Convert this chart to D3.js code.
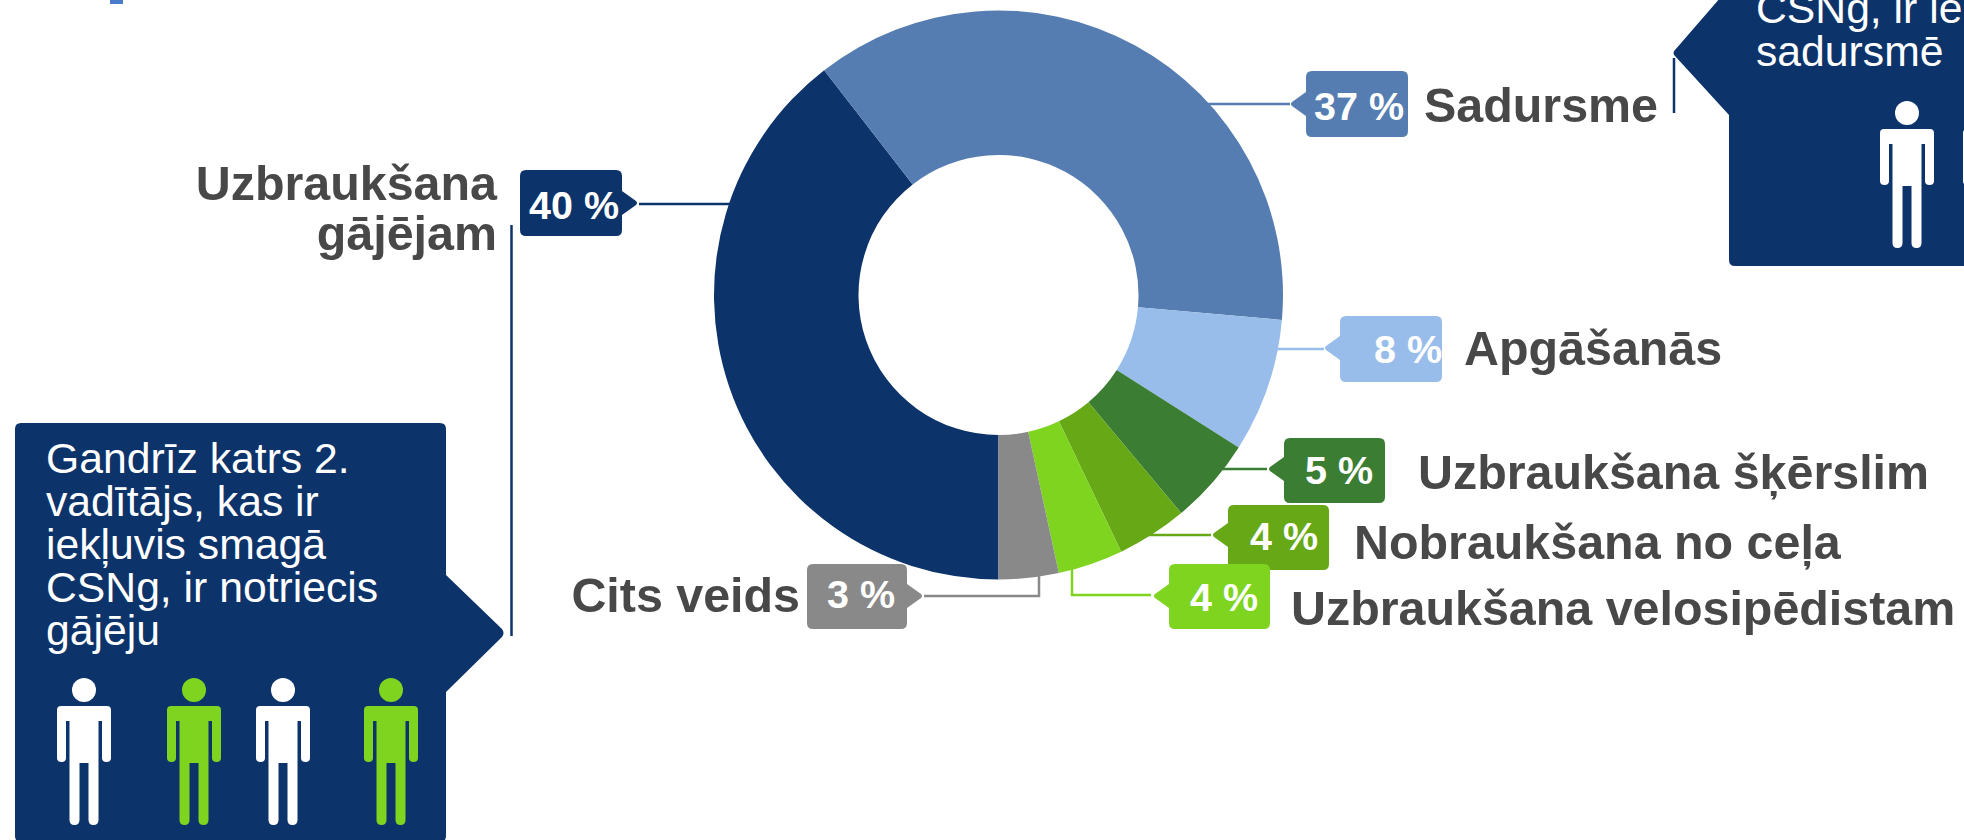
<!DOCTYPE html>
<html lang="lv"><head><meta charset="utf-8">
<script src="https://cdn.jsdelivr.net/npm/d3@7"></script>
<style>html,body{margin:0;padding:0;background:#fff;overflow:hidden}svg{display:block}text{font-family:"Liberation Sans",Arial,sans-serif}</style>
</head><body><svg id="c" width="1964" height="840"></svg>
<script>
// Data
const categories = ["Uzbraukšana gājējam","Sadursme","Apgāšanās","Uzbraukšana šķērslim","Nobraukšana no ceļa","Uzbraukšana velosipēdistam","Cits veids"];
const sliceValues = [39.5,36.9,7.6,4.9,4.0,3.7,3.4];
const percentLabels = ["40 %","37 %","8 %","5 %","4 %","4 %","3 %"];
const sliceColors = ["#0d336b","#567db2","#98bdea","#3b7e33","#66a816","#7ed41f","#898989"];
const leftPeople = ["#ffffff","#7ed41f","#ffffff","#7ed41f"];
const rightPeople = ["#ffffff","#ffffff"];
const leftNote = ["Gandrīz katrs 2.","vadītājs, kas ir","iekļuvis smagā","CSNg, ir notriecis","gājēju"];
const rightNote = ["CSNg, ir ie","sadursmē"];

// Layout (callouts): box, pointer side, leader polyline, percent text, category label lines
const callouts = [
 {box:[520,170,102,66],side:"r",tipY:203,lead:[[639,204],[760,204]],pct:[529,219],name:[[497,200,"Uzbraukšana"],[497,250,"gājējam"]],anchor:"end"},
 {box:[1306,71,102,66],side:"l",tipY:104,lead:[[1290,104],[1190,104]],pct:[1314,120],name:[[1424,122,"Sadursme"]]},
 {box:[1340,316,102,66],side:"l",tipY:348,lead:[[1324,349],[1260,349]],pct:[1374,363],name:[[1464,365,"Apgāšanās"]]},
 {box:[1284,438,101,65],side:"l",tipY:469,lead:[[1267,469],[1200,469]],pct:[1305,484],name:[[1418,489,"Uzbraukšana šķērslim"]]},
 {box:[1228,505,101,65],side:"l",tipY:535,lead:[[1211,535],[1116,535],[1116,530]],pct:[1250,550],name:[[1354,559,"Nobraukšana no ceļa"]]},
 {box:[1169,564,101,65],side:"l",tipY:596,lead:[[1151,595],[1072,595],[1072,560]],pct:[1190,611],name:[[1291,625,"Uzbraukšana velosipēdistam"]]},
 {box:[807,564,100,65],side:"r",tipY:596,lead:[[924,596],[1039,596],[1039,560]],pct:[827,608],name:[[800,612,"Cits veids"]],anchor:"end"}
];

const svg = d3.select("#c");
const navy = sliceColors[0], ink = "#484848";
const cx = 998.5, cy = 295, R = 284.5, r0 = 140;

// Fragment at top-left edge
svg.append("rect").attr("x",110).attr("y",-4).attr("width",13).attr("height",8).attr("fill","#4a7bc8");

// Leaders (under the donut)
callouts.forEach((c,i)=>{
  svg.append("path").attr("d",d3.line()(c.lead)).attr("fill","none").attr("stroke",sliceColors[i]).attr("stroke-width",2.5);
});

// Donut
const pie = d3.pie().sort(null).value(d=>d).startAngle(Math.PI).endAngle(3*Math.PI);
const arc = d3.arc().innerRadius(r0).outerRadius(R);
svg.append("g").attr("transform",`translate(${cx},${cy})`)
  .selectAll("path").data(pie(sliceValues)).join("path").attr("d",arc).attr("fill",(d,i)=>sliceColors[i]);

// Percent tags
function tagPath(b,side,tipY){
  const [x,y,w,h]=b, q=6, p=d3.path(), t=16, a=12;
  p.moveTo(x+q,y); p.lineTo(x+w-q,y); p.quadraticCurveTo(x+w,y,x+w,y+q);
  if(side==="r"){p.lineTo(x+w,tipY-a); p.lineTo(x+w+t-2,tipY-2); p.quadraticCurveTo(x+w+t,tipY,x+w+t-2,tipY+2); p.lineTo(x+w,tipY+a);}
  p.lineTo(x+w,y+h-q); p.quadraticCurveTo(x+w,y+h,x+w-q,y+h); p.lineTo(x+q,y+h); p.quadraticCurveTo(x,y+h,x,y+h-q);
  if(side==="l"){p.lineTo(x,tipY+a); p.lineTo(x-t+2,tipY+2); p.quadraticCurveTo(x-t,tipY,x-t+2,tipY-2); p.lineTo(x,tipY-a);}
  p.lineTo(x,y+q); p.quadraticCurveTo(x,y,x+q,y); p.closePath();
  return p.toString();
}
function multiline(lines,x,y,step,size){
  const t=svg.append("text").attr("font-size",size).attr("fill","#fff");
  lines.forEach((s,i)=>t.append("tspan").attr("x",x).attr("y",y+i*step).text(s));
}
callouts.forEach((c,i)=>{
  svg.append("path").attr("d",tagPath(c.box,c.side,c.tipY)).attr("fill",sliceColors[i]);
  svg.append("text").attr("x",c.pct[0]).attr("y",c.pct[1]).attr("font-size",39.5).attr("font-weight",700).attr("fill","#fff").text(percentLabels[i]);
  const label=svg.append("text").attr("text-anchor",c.anchor||"start").attr("font-size",48.4).attr("font-weight",700).attr("fill",ink);
  c.name.forEach(n=>label.append("tspan").attr("x",n[0]).attr("y",n[1]).text(n[2]));
});

// Person pictogram
function person(x,top,color){
  const g=svg.append("g").attr("transform",`translate(${x},${top})`).attr("fill",color);
  g.append("circle").attr("cy",0).attr("r",12);
  g.append("path").attr("d",
   "M-23,16H23Q27,16 27,20V68Q27,72 22.5,72Q18,72 18,68V31H14.5V130Q14.5,135 9.5,135Q4.5,135 4.5,130V73H-4.5V130Q-4.5,135 -9.5,135Q-14.5,135 -14.5,130V31H-18V68Q-18,72 -22.5,72Q-27,72 -27,68V20Q-27,16 -23,16Z");
}

// Left note box
svg.append("path").attr("fill",navy).attr("d","M21,423H440Q446,423 446,429V575L502,629Q505,633 502,637L446,692V836Q446,842 440,842H21Q15,842 15,836V429Q15,423 21,423Z");
svg.append("line").attr("x1",511.5).attr("x2",511.5).attr("y1",225).attr("y2",636).attr("stroke",navy).attr("stroke-width",2.5);
multiline(leftNote,46,473,43,42.7);
[84,194,283,391].forEach((x,i)=>person(x,690,leftPeople[i]));

// Right note box
svg.append("path").attr("fill",navy).attr("d","M1964,-10H1727L1675,50Q1672,53 1675,56L1729,115V260Q1729,266 1735,266H1964Z");
svg.append("line").attr("x1",1674).attr("x2",1674).attr("y1",58).attr("y2",113).attr("stroke",navy).attr("stroke-width",2.5);
multiline(rightNote,1756,23,43,42.7);
[1907,1990].forEach((x,i)=>person(x,113,rightPeople[i]));
</script></body></html>
